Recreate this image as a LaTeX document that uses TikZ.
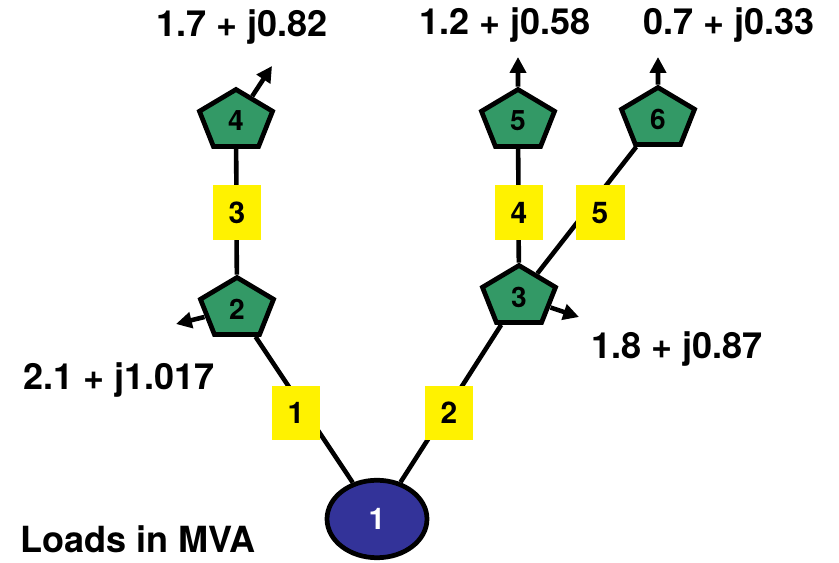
\documentclass[tikz,border=0pt]{standalone}
\usepackage{fontspec}
\setmainfont{TeX Gyre Heros}
\usetikzlibrary{shapes.geometric,arrows.meta,backgrounds}
\definecolor{busgreen}{HTML}{339966}
\definecolor{busblue}{HTML}{333399}
\newcommand{\charge}[1]{\fontsize{20.5}{24}\selectfont\bfseries #1}
\newcommand{\busnum}[1]{\scalebox{0.82}[1]{#1}}

\begin{document}
\begin{tikzpicture}[x=0.02cm,y=-0.02cm,
    bus/.style={regular polygon, regular polygon sides=5, draw, line width=2.7pt,
                fill=busgreen, inner sep=0pt, minimum size=1.26cm,
                xscale=1.22, transform shape,
                font=\fontsize{16}{18}\selectfont\bfseries},
    slack/.style={ellipse, draw, line width=2.7pt, fill=busblue, text=white,
                minimum width=2cm, minimum height=1.55cm,
                font=\fontsize{17}{19}\selectfont\bfseries},
    tag/.style={fill=yellow, minimum width=0.98cm, minimum height=1.1cm, inner sep=0pt,
                font=\fontsize{17}{19}\selectfont\bfseries},
    wire/.style={line width=2.6pt},
    load/.style={line width=2.6pt, -{Triangle[length=9pt,width=9pt]}}]
    \useasboundingbox (0,0) rectangle (839,563);

    \node[slack] (b1) at (377,519) {1};
    \node[bus] (b2) at (237,309) {\busnum{2}};
    \node[bus] (b3) at (519,297) {\busnum{3}};
    \node[bus] (b4) at (236,121) {\busnum{4}};
    \node[bus] (b5) at (518,121) {\busnum{5}};
    \node[bus] (b6) at (658,119) {\busnum{6}};

    \coordinate (c2) at (176,324);
    \coordinate (c3) at (579,317);
    \coordinate (c4) at (272,66);
    \coordinate (c5) at (518,57);
    \coordinate (c6) at (658,57);

    \begin{scope}[on background layer]
        \draw[wire] (b1) -- (b2);
        \draw[wire] (b1) -- (b3);
        \draw[wire] (b2) -- (b4);
        \draw[wire] (b3) -- (b5);
        \draw[wire] (b3) -- (b6);

        \draw[load] (b2) -- (c2);
        \draw[load] (b3) -- (c3);
        \draw[load] (b4) -- (c4);
        \draw[load] (b5) -- (c5);
        \draw[load] (b6) -- (c6);
    \end{scope}

    \node[tag] (l1) at (296,413) {1};
    \node[tag] (l2) at (449,413) {2};
    \node[tag] (l3) at (237,213) {3};
    \node[tag] (l4) at (519,213) {4};
    \node[tag] (l5) at (600,213) {5};

    \node (p4) at (242,27) {\charge{1.7 + j0.82}};
    \node (p5) at (505,25) {\charge{1.2 + j0.58}};
    \node (p6) at (729,25) {\charge{0.7 + j0.33}};
    \node (p2) at (119,380) {\charge{2.1 + j1.017}};
    \node (p3) at (677,349) {\charge{1.8 + j0.87}};
    \node (units) at (138,539) {\charge{Loads in MVA}};
\end{tikzpicture}
\end{document}
